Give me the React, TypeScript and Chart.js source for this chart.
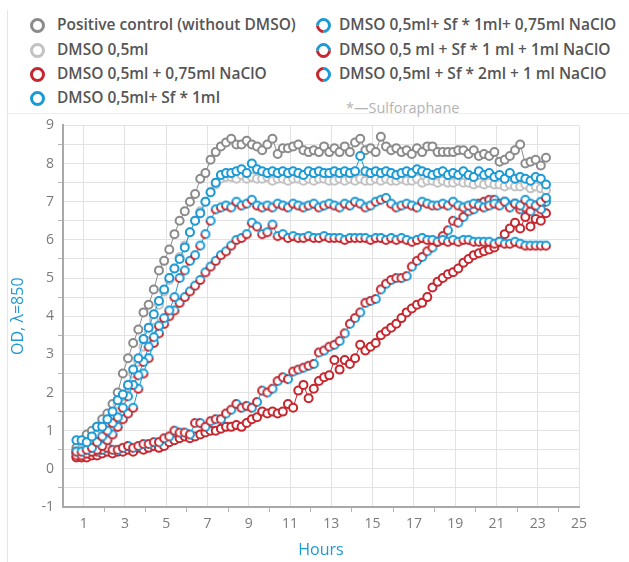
import React, { useEffect, useRef } from "react";
import { Chart, registerables } from "chart.js";

Chart.register(...registerables);

// Time points (hours)
const hours = [
  0.65, 0.9, 1.15, 1.4, 1.65, 1.9, 2.15, 2.4, 2.65, 2.9,
  3.15, 3.4, 3.65, 3.9, 4.15, 4.4, 4.65, 4.9, 5.15, 5.4,
  5.65, 5.9, 6.15, 6.4, 6.65, 6.9, 7.15, 7.4, 7.65, 7.9,
  8.15, 8.4, 8.65, 8.9, 9.15, 9.4, 9.65, 9.9, 10.15, 10.4,
  10.65, 10.9, 11.15, 11.4, 11.65, 11.9, 12.15, 12.4, 12.65, 12.9,
  13.15, 13.4, 13.65, 13.9, 14.15, 14.4, 14.65, 14.9, 15.15, 15.4,
  15.65, 15.9, 16.15, 16.4, 16.65, 16.9, 17.15, 17.4, 17.65, 17.9,
  18.15, 18.4, 18.65, 18.9, 19.15, 19.4, 19.65, 19.9, 20.15, 20.4,
  20.65, 20.9, 21.15, 21.4, 21.65, 21.9, 22.15, 22.4, 22.65, 22.9,
  23.15, 23.4,
];

// Positive control (without DMSO)
const positiveControl = [
  0.55, 0.7, 0.9, 1.0, 1.1, 1.3, 1.45, 1.7, 2.0, 2.5,
  2.9, 3.3, 3.65, 4.1, 4.3, 4.7, 5.2, 5.45, 5.75, 6.15,
  6.5, 6.75, 7.0, 7.2, 7.6, 7.75, 8.1, 8.3, 8.45, 8.55,
  8.65, 8.5, 8.5, 8.6, 8.5, 8.45, 8.35, 8.5, 8.65, 8.25,
  8.4, 8.4, 8.45, 8.5, 8.35, 8.3, 8.35, 8.3, 8.45, 8.3,
  8.4, 8.3, 8.45, 8.3, 8.55, 8.65, 8.35, 8.4, 8.3, 8.7,
  8.45, 8.35, 8.4, 8.3, 8.35, 8.25, 8.4, 8.3, 8.45, 8.45,
  8.3, 8.3, 8.3, 8.3, 8.35, 8.35, 8.25, 8.35, 8.2, 8.25,
  8.2, 8.3, 8.05, 8.1, 8.2, 8.35, 8.5, 8.0, 8.05, 8.1,
  7.95, 8.15,
];

// DMSO 0,5ml
const dmso = [
  0.45, 0.5, 0.55, 0.7, 0.9, 1.0, 1.2, 1.4, 1.7, 1.9,
  2.15, 2.5, 2.8, 3.2, 3.55, 3.9, 4.3, 4.65, 4.95, 5.25,
  5.55, 5.85, 6.2, 6.5, 6.75, 7.0, 7.25, 7.45, 7.6, 7.65,
  7.65, 7.6, 7.7, 7.6, 7.65, 7.6, 7.6, 7.65, 7.55, 7.6,
  7.6, 7.55, 7.6, 7.6, 7.55, 7.6, 7.55, 7.6, 7.6, 7.55,
  7.55, 7.6, 7.55, 7.6, 7.55, 7.6, 7.55, 7.55, 7.6, 7.55,
  7.6, 7.55, 7.55, 7.6, 7.55, 7.55, 7.6, 7.5, 7.55, 7.55,
  7.5, 7.55, 7.5, 7.5, 7.55, 7.5, 7.5, 7.45, 7.5, 7.45,
  7.5, 7.45, 7.45, 7.4, 7.45, 7.4, 7.4, 7.45, 7.35, 7.4,
  7.35, 7.3,
];

// DMSO 0,5ml + 0,75ml NaClO
const dmsoNaClO075 = [
  0.3, 0.3, 0.3, 0.35, 0.35, 0.4, 0.45, 0.4, 0.45, 0.45,
  0.5, 0.45, 0.55, 0.5, 0.55, 0.6, 0.55, 0.6, 0.7, 0.75,
  0.8, 0.85, 0.8, 0.85, 0.9, 0.95, 1.0, 1.0, 1.05, 1.1,
  1.1, 1.15, 1.1, 1.2, 1.3, 1.35, 1.5, 1.45, 1.5, 1.45,
  1.5, 1.7, 1.6, 2.05, 2.2, 1.85, 2.1, 2.3, 2.4, 2.45,
  2.85, 2.6, 2.85, 2.75, 2.9, 3.25, 3.1, 3.2, 3.3, 3.5,
  3.6, 3.7, 3.8, 3.95, 4.1, 4.2, 4.3, 4.35, 4.5, 4.75,
  4.9, 5.0, 5.1, 5.15, 5.25, 5.4, 5.5, 5.6, 5.65, 5.7,
  5.75, 5.8, 5.95, 6.15, 6.3, 6.45, 6.3, 6.6, 6.35, 6.55,
  6.5, 6.7,
];

// DMSO 0,5ml+ Sf * 1ml
const sf1 = [
  0.75, 0.75, 0.7, 0.85, 1.1, 1.1, 1.3, 1.5, 1.8, 1.95,
  2.2, 2.6, 2.9, 3.4, 3.7, 4.05, 4.4, 4.7, 5.0, 5.25,
  5.5, 5.8, 6.2, 6.5, 6.7, 7.0, 7.25, 7.5, 7.7, 7.75,
  7.75, 7.8, 7.85, 7.75, 8.0, 7.85, 7.8, 7.75, 7.8, 7.75,
  7.8, 7.75, 7.8, 7.75, 7.7, 7.8, 7.75, 7.8, 7.75, 7.75,
  7.8, 7.75, 7.8, 7.75, 7.8, 8.2, 7.8, 7.75, 7.8, 7.75,
  7.8, 7.75, 7.7, 7.75, 7.8, 7.75, 7.85, 7.8, 7.75, 7.7,
  7.75, 7.8, 7.7, 7.75, 7.7, 7.8, 7.7, 7.65, 7.8, 7.7,
  7.75, 7.65, 7.7, 7.6, 7.75, 7.6, 7.65, 7.6, 7.55, 7.65,
  7.6, 7.45,
];

// DMSO 0,5ml+ Sf * 1ml+ 0,75ml NaClO
const sf1NaClO075 = [
  0.45, 0.45, 0.5, 0.55, 0.7, 0.85, 1.0, 1.2, 1.35, 1.6,
  1.9, 2.2, 2.45, 2.8, 3.2, 3.45, 3.75, 3.95, 4.15, 4.5,
  5.0, 5.2, 5.45, 5.6, 5.85, 6.15, 6.5, 6.8, 6.85, 6.9,
  6.85, 7.0, 6.9, 6.95, 7.05, 6.9, 6.85, 6.9, 6.85, 6.95,
  6.9, 6.85, 6.95, 6.9, 6.85, 6.9, 6.95, 6.85, 6.9, 6.95,
  6.9, 6.85, 6.95, 6.9, 7.0, 6.95, 6.85, 6.9, 7.0, 7.05,
  7.1, 6.95, 6.85, 6.9, 6.95, 6.9, 6.85, 7.0, 6.95, 6.9,
  6.9, 6.95, 6.9, 7.0, 6.9, 6.85, 6.9, 6.95, 6.9, 6.85,
  6.9, 6.95, 6.9, 7.0, 6.85, 6.95, 6.9, 7.05, 6.95, 6.9,
  7.0, 7.1,
];

// DMSO 0,5 ml + Sf * 1 ml + 1ml NaClO
const sf1NaClO1 = [
  0.35, 0.35, 0.4, 0.45, 0.5, 0.6, 0.75, 0.9, 1.1, 1.3,
  1.45, 1.6, 2.1, 2.5, 2.9, 3.3, 3.55, 3.8, 4.0, 4.15,
  4.35, 4.5, 4.65, 4.8, 4.95, 5.15, 5.3, 5.45, 5.6, 5.7,
  5.85, 6.0, 6.05, 6.15, 6.45, 6.35, 6.15, 6.2, 6.4, 6.1,
  6.15, 6.05, 6.1, 6.05, 6.05, 6.1, 6.05, 6.05, 6.1, 6.05,
  6.05, 6.05, 6.0, 6.05, 6.05, 6.05, 6.05, 6.0, 6.05, 6.05,
  6.0, 6.05, 6.0, 6.05, 6.0, 5.95, 6.0, 6.05, 6.0, 6.0,
  5.95, 6.0, 5.95, 6.0, 5.95, 6.0, 6.0, 5.95, 5.95, 5.95,
  5.95, 5.9, 5.95, 5.9, 5.9, 5.95, 5.9, 5.85, 5.85, 5.85,
  5.85, 5.85,
];

// DMSO 0,5ml + Sf * 2ml + 1 ml NaClO
const sf2NaClO1 = [
  0.45, 0.4, 0.45, 0.5, 0.45, 0.5, 0.55, 0.5, 0.5, 0.55,
  0.6, 0.55, 0.6, 0.65, 0.65, 0.7, 0.7, 0.8, 0.85, 1.0,
  0.95, 0.95, 0.9, 1.2, 1.2, 1.1, 1.25, 1.3, 1.3, 1.45,
  1.55, 1.7, 1.6, 1.65, 1.6, 1.75, 2.05, 2.0, 2.1, 2.3,
  2.4, 2.35, 2.55, 2.6, 2.65, 2.7, 2.75, 3.05, 3.1, 3.2,
  3.25, 3.35, 3.55, 3.8, 3.95, 4.1, 4.35, 4.4, 4.45, 4.7,
  4.85, 4.95, 5.0, 5.0, 5.05, 5.3, 5.45, 5.55, 5.7, 5.8,
  5.95, 6.1, 6.25, 6.5, 6.45, 6.6, 6.75, 6.8, 6.95, 7.0,
  7.05, 7.05, 6.95, 7.0, 6.9, 6.95, 6.8, 6.85, 6.75, 6.9,
  6.8, 7.0,
];

const xTickValues = [1, 3, 5, 7, 9, 11, 13, 15, 17, 19, 21, 23, 25];
const yTickValues = [-1, 0, 1, 2, 3, 4, 5, 6, 7, 8, 9];

const BLUE = "#1c9ad6";
const RED = "#c6262d";
const DARK_GRAY = "#8b8b8b";
const LIGHT_GRAY = "#c2c2c2";

type Seg = [number, number, string];

function ringCanvas(segs: Seg[]): HTMLCanvasElement {
  const c = document.createElement("canvas");
  c.width = 12;
  c.height = 12;
  const ctx = c.getContext("2d")!;
  ctx.beginPath();
  ctx.arc(6, 6, 4, 0, Math.PI * 2);
  ctx.fillStyle = "#fff";
  ctx.fill();
  ctx.lineWidth = 2;
  for (const [a0, a1, col] of segs) {
    ctx.beginPath();
    ctx.strokeStyle = col;
    ctx.arc(6, 6, 4, (a0 * Math.PI) / 180, (a1 * Math.PI) / 180);
    ctx.stroke();
  }
  return c;
}

const legendLeft = [
  { label: "Positive control (without DMSO)", colors: [DARK_GRAY, DARK_GRAY, DARK_GRAY, DARK_GRAY] },
  { label: "DMSO 0,5ml", colors: [LIGHT_GRAY, LIGHT_GRAY, LIGHT_GRAY, LIGHT_GRAY] },
  { label: "DMSO 0,5ml + 0,75ml NaClO", colors: [RED, RED, RED, RED] },
  { label: "DMSO 0,5ml+ Sf * 1ml", colors: [BLUE, BLUE, BLUE, BLUE] },
];
// colors: top, right, bottom, left (icon rotated 45deg)
const legendRight = [
  { label: "DMSO 0,5ml+ Sf * 1ml+ 0,75ml NaClO", colors: [BLUE, BLUE, RED, BLUE] },
  { label: "DMSO 0,5 ml + Sf * 1 ml + 1ml NaClO", colors: [BLUE, RED, RED, BLUE] },
  { label: "DMSO 0,5ml + Sf * 2ml + 1 ml NaClO", colors: [BLUE, BLUE, RED, RED] },
];

function Icon({ colors, x, y }: { colors: string[]; x: number; y: number }) {
  return (
    <div
      style={{
        position: "absolute",
        left: x - 7.5,
        top: y - 7.5,
        width: 9,
        height: 9,
        borderRadius: "50%",
        borderStyle: "solid",
        borderWidth: 3,
        borderTopColor: colors[0],
        borderRightColor: colors[1],
        borderBottomColor: colors[2],
        borderLeftColor: colors[3],
        transform: "rotate(45deg)",
      }}
    />
  );
}

const ROW_Y = [25, 50, 74, 98];

export default function App() {
  const ref = useRef<HTMLCanvasElement | null>(null);

  useEffect(() => {
    if (!ref.current) return;
    const mk = (arr: number[]) => hours.map((h, i) => ({ x: h, y: arr[i] }));
    const ringSf1075 = ringCanvas([[0, 90, BLUE], [90, 180, RED], [180, 360, BLUE]]);
    const ringSf11 = ringCanvas([[0, 180, RED], [180, 360, BLUE]]);
    const ringSf21 = ringCanvas([[90, 270, RED], [270, 450, BLUE]]);

    const base = {
      pointRadius: 4,
      pointBorderWidth: 2,
      pointBackgroundColor: "#ffffff",
      borderWidth: 1,
      tension: 0,
      fill: false,
    };

    const chart = new Chart(ref.current, {
      type: "line",
      data: {
        datasets: [
          { ...base, label: "Positive control (without DMSO)", data: mk(positiveControl), borderColor: DARK_GRAY, pointBorderColor: DARK_GRAY, order: 7 },
          { ...base, label: "DMSO 0,5ml", data: mk(dmso), borderColor: LIGHT_GRAY, pointBorderColor: LIGHT_GRAY, order: 6 },
          { ...base, label: "DMSO 0,5ml + 0,75ml NaClO", data: mk(dmsoNaClO075), borderColor: RED, pointBorderColor: RED, order: 5 },
          { ...base, label: "DMSO 0,5ml + Sf * 2ml + 1 ml NaClO", data: mk(sf2NaClO1), borderColor: BLUE, pointStyle: ringSf21, order: 4 },
          { ...base, label: "DMSO 0,5 ml + Sf * 1 ml + 1ml NaClO", data: mk(sf1NaClO1), borderColor: BLUE, pointStyle: ringSf11, order: 3 },
          { ...base, label: "DMSO 0,5ml+ Sf * 1ml+ 0,75ml NaClO", data: mk(sf1NaClO075), borderColor: BLUE, pointStyle: ringSf1075, order: 2 },
          { ...base, label: "DMSO 0,5ml+ Sf * 1ml", data: mk(sf1), borderColor: BLUE, pointBorderColor: BLUE, order: 1 },
        ] as any,
      },
      options: {
        animation: false,
        responsive: false,
        maintainAspectRatio: false,
        layout: { padding: { top: 12, right: 50, left: 0, bottom: 0 } },
        plugins: { legend: { display: false }, tooltip: { enabled: false } },
        scales: {
          x: {
            type: "linear",
            min: 0,
            max: 25,
            ticks: {
              stepSize: 1,
              autoSkip: false,
              maxRotation: 0,
              padding: 4,
              color: "#7a7a7a",
              font: { family: "Open Sans", size: 14 },
              callback: (v: any) => (xTickValues.includes(Number(v)) ? String(v) : ""),
            },
            grid: {
              color: (c: any) => (c.tick && xTickValues.includes(c.tick.value) ? "#e2e2e2" : "rgba(0,0,0,0)"),
              tickColor: (c: any) =>
                c.tick && !xTickValues.includes(c.tick.value) && c.tick.value > 0 ? "#b5b5b5" : "rgba(0,0,0,0)",
              tickLength: 5,
              lineWidth: 1,
            },
            border: { color: "#a9a9a9", width: 2 },
            title: {
              display: true,
              text: "Hours",
              color: BLUE,
              font: { family: "Open Sans", size: 16 },
              padding: { top: 0, bottom: 2 },
            },
            afterFit: (s: any) => {
              s.height = 55;
            },
          },
          y: {
            type: "linear",
            min: -1,
            max: 9,
            ticks: {
              stepSize: 0.5,
              autoSkip: false,
              padding: 4,
              color: "#7a7a7a",
              font: { family: "Open Sans", size: 14 },
              callback: (v: any) => (yTickValues.includes(Number(v)) ? String(v) : ""),
            },
            grid: {
              color: "#e2e2e2",
              tickColor: (c: any) =>
                c.tick && !yTickValues.includes(c.tick.value) ? "#b5b5b5" : "rgba(0,0,0,0)",
              tickLength: 5,
              lineWidth: 1,
            },
            border: { color: "#a9a9a9", width: 2 },
            title: {
              display: true,
              text: "OD, λ=850",
              color: BLUE,
              font: { family: "Open Sans", size: 16 },
              padding: { top: 9, bottom: 0 },
            },
            afterFit: (s: any) => {
              s.width = 63;
            },
          },
        },
      } as any,
    });
    return () => chart.destroy();
  }, []);

  const textStyle: React.CSSProperties = {
    position: "absolute",
    fontFamily: "'Open Sans', sans-serif",
    fontWeight: 600,
    fontSize: 15.5,
    color: "#555",
    whiteSpace: "nowrap",
    lineHeight: "20px",
  };

  return (
    <div style={{ position: "fixed", left: 0, top: 0, width: 629, height: 562, background: "#fff", overflow: "hidden" }}>
      <div style={{ position: "absolute", left: 7, top: 10, width: 1, height: 552, background: "#e6e6e6" }} />
      <div style={{ position: "absolute", left: 7, top: 113, width: 622, height: 1, background: "#ededed" }} />
      {legendLeft.map((l, i) => (
        <React.Fragment key={l.label}>
          <Icon colors={l.colors} x={37} y={ROW_Y[i]} />
          <div style={{ ...textStyle, left: 57, top: ROW_Y[i] - 11 }}>{l.label}</div>
        </React.Fragment>
      ))}
      {legendRight.map((l, i) => (
        <React.Fragment key={l.label}>
          <Icon colors={l.colors} x={323} y={ROW_Y[i]} />
          <div style={{ ...textStyle, left: 339, top: ROW_Y[i] - 11 }}>{l.label}</div>
        </React.Fragment>
      ))}
      <div
        style={{
          position: "absolute",
          left: 346,
          top: 99,
          fontFamily: "'Open Sans', sans-serif",
          fontSize: 14.5,
          color: "#b3b3b3",
          whiteSpace: "nowrap",
          lineHeight: "18px",
        }}
      >
        *—Sulforaphane
      </div>
      <canvas
        ref={ref}
        width={629}
        height={449}
        style={{ position: "absolute", left: 0, top: 113, width: 629, height: 449, display: "block" }}
      />
    </div>
  );
}
